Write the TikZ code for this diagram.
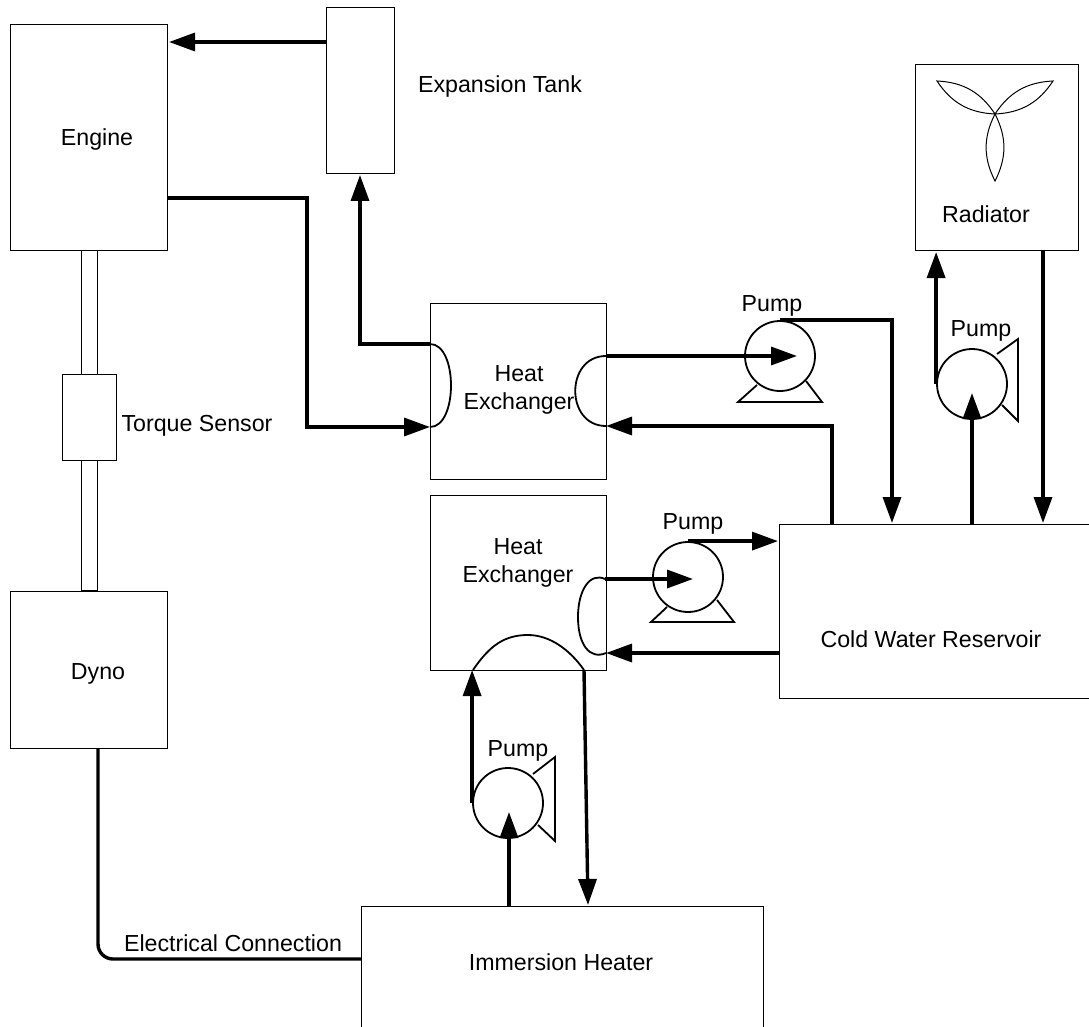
\documentclass[tikz,border=0pt]{standalone}
\usepackage{fontspec}
\setmainfont{Liberation Sans}
\usetikzlibrary{arrows.meta,positioning}

\begin{document}
\begin{tikzpicture}[
    x=1pt, y=-1pt,
    every node/.style={font=\fontsize{23.2}{28.5}\selectfont, align=center, inner sep=0pt},
    compbox/.style={rectangle, draw=black, line width=1pt, anchor=north west},
    pumpbody/.style={circle, draw=black, line width=1.8pt, minimum size=70pt},
    pipe/.style={line width=3.4pt, draw=black},
    arr/.style={pipe, -{Triangle[length=26pt,width=18pt]}},
    coil/.style={line width=1.8pt, draw=black},
    stand/.style={line width=1.8pt, draw=black, line join=miter},
    blade/.style={line width=1pt, draw=black}
]
\useasboundingbox (0,0) rectangle (1089,1027);

% components
\node[compbox, minimum width=157pt, minimum height=226pt] (engine) at (10,24) {};
\node[compbox, minimum width=68pt, minimum height=166pt] (tank) at (326,7) {};
\node[compbox, minimum width=16pt, minimum height=340pt] (shaft) at (81,250) {};
\node[compbox, fill=white, minimum width=54pt, minimum height=86pt] (sensor) at (62,374) {};
\node[compbox, minimum width=157pt, minimum height=157pt] (dyno) at (10,591) {};
\node[compbox, minimum width=176pt, minimum height=176pt] (hxa) at (430,303) {};
\node[compbox, minimum width=176pt, minimum height=175pt] (hxb) at (430,495) {};
\node[compbox, minimum width=163pt, minimum height=186pt] (radiator) at (915,64) {};
\node[compbox, minimum width=311pt, minimum height=174pt] (reservoir) at (779,524) {};
\node[compbox, minimum width=402pt, minimum height=122pt] (heater) at (361,906) {};

% pumps
\node[pumpbody] (pumpa) at (780,356) {};
\node[pumpbody] (pumpb) at (688,577) {};
\node[pumpbody] (pumpc) at (972,384) {};
\node[pumpbody] (pumpd) at (508,803) {};
\draw[stand] (757,385) -- (738,402) -- (822,402) -- (806,381);
\draw[stand] (667,607) -- (651,622) -- (734,622) -- (717,600);
\draw[stand] (997,354) -- (1018,339) -- (1018,421) -- (1002,405);
\draw[stand] (533,774) -- (555,757) -- (555,841) -- (538,825);

% labels
\node (enginelabel) at (97,140) {Engine};
\node (tanklabel) at (500,87) {Expansion Tank};
\node (sensorlabel) at (197,426) {Torque Sensor};
\node (dynolabel) at (98,674) {Dyno};
\node (radiatorlabel) at (986,214) {Radiator};
\node (hxalabel) at (519,390) {Heat\\Exchanger};
\node (hxblabel) at (518,563) {Heat\\Exchanger};
\node (reservoirlabel) at (931,639) {Cold Water Reservoir};
\node (heaterlabel) at (561,962) {Immersion Heater};
\node (wirelabel) at (233,943) {Electrical Connection};
\node (pumpalabel) at (772,306) {Pump};
\node (pumpblabel) at (693,524) {Pump};
\node (pumpclabel) at (981,331) {Pump};
\node (pumpdlabel) at (518,751) {Pump};

% ports
\coordinate (tankout) at (326,42);
\coordinate (enginein) at (169,42);
\coordinate (engineout) at (167,198);
\coordinate (tankin) at (360,175);
\coordinate (hxaleftin) at (430,427);
\coordinate (hxaleftout) at (430,344);
\coordinate (hxarightout) at (606,356);
\coordinate (hxarightin) at (606,426);
\coordinate (hxbrightout) at (605,579);
\coordinate (hxbrightin) at (606,653);
\coordinate (hxbbotin) at (473,670);
\coordinate (hxbbotout) at (584,670);
\coordinate (pumpatip) at (797,356);
\coordinate (pumpbtip) at (693,579);
\coordinate (pumpctip) at (972,393);
\coordinate (pumpdtip) at (509,812);
\coordinate (resina) at (892,523);
\coordinate (resoutb) at (832,524);
\coordinate (resinb) at (778,542);
\coordinate (resoutc) at (779,653);
\coordinate (resoutd) at (972,524);
\coordinate (resinc) at (1043,523);
\coordinate (radin) at (937,252);
\coordinate (radout) at (1043,250);
\coordinate (heaterouta) at (509,906);
\coordinate (heaterin) at (588,905);
\coordinate (dynoout) at (98,748);
\coordinate (heaterwire) at (361,959);

% coils inside the exchangers
\draw[coil] (hxaleftout) .. controls (458,344) and (458,427) .. (hxaleftin);
\draw[coil] (hxarightout) .. controls (565,356) and (565,426) .. (hxarightin);
\draw[coil] (hxbrightout) .. controls (590,572) and (578,590) .. (578,617) .. controls (578,645) and (590,660) .. (hxbrightin);
\draw[coil] (hxbbotin) .. controls (490,645) and (505,635) .. (528,635) .. controls (550,635) and (570,650) .. (hxbbotout);

% pipes
\draw[arr] (tankout) -- (enginein);
\draw[arr] (engineout) -| (307,427) -- (hxaleftin);
\draw[arr] (hxaleftout) -| (tankin);
\draw[arr] (hxarightout) -- (pumpatip);
\draw[arr] (pumpa.north) -| (resina);
\draw[arr] (resoutb) |- (hxarightin);
\draw[arr] (hxbrightout) -- (pumpbtip);
\draw[arr] (pumpb.north) -- (pumpb.north -| resinb);
\draw[arr] (resoutc) -- (hxbrightin);
\draw[arr] (pumpd.west) -- (pumpd.west |- hxbbotin);
\draw[arr] (hxbbotout) -- (heaterin);
\draw[arr] (heaterouta) -- (pumpdtip);
\draw[arr] (resoutd) -- (pumpctip);
\draw[arr] (pumpc.west) -- (pumpc.west |- radin);
\draw[arr] (radout) -- (resinc);
\draw[pipe, rounded corners=15pt] (dynoout) |- (heaterwire);

% fan
\coordinate (hub) at (995,114);
\coordinate (bladea) at (937,81);
\coordinate (bladeb) at (1053,81);
\coordinate (bladec) at (995,181);
\draw[blade] (hub) to[bend left=27] (bladea) to[bend left=27] (hub);
\draw[blade] (hub) to[bend left=27] (bladeb) to[bend left=27] (hub);
\draw[blade] (hub) to[bend left=27] (bladec) to[bend left=27] (hub);

\end{tikzpicture}
\end{document}
